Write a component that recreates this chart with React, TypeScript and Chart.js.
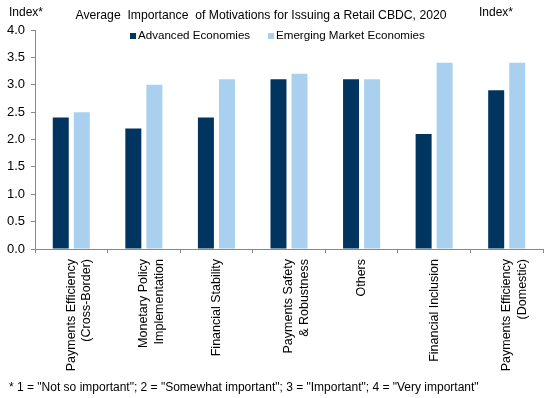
import React, { useEffect, useRef } from "react";
import { Chart, registerables } from "chart.js";

Chart.register(...registerables);

const categories: (string | string[])[] = [
  ["Payments Efficiency", "(Cross-Border)"],
  ["Monetary Policy", "Implementation"],
  "Financial Stability",
  ["Payments Safety", "& Robustness"],
  "Others",
  "Financial Inclusion",
  ["Payments Efficiency", "(Domestic)"],
];
const advanced = [2.4, 2.2, 2.4, 3.1, 3.1, 2.1, 2.9];
const emerging = [2.5, 3.0, 3.1, 3.2, 3.1, 3.4, 3.4];
const seriesNames = ["Advanced Economies", "Emerging Market Economies"];
const colors = ["#00355F", "#A9D0EE"];
const title = "Average  Importance  of Motivations for Issuing a Retail CBDC, 2020";
const footnote = '* 1 = "Not so important"; 2 = "Somewhat important"; 3 = "Important"; 4 = "Very important"';
const FONT = "'Liberation Sans', Arial, sans-serif";

const textPlugin = {
  id: "texts",
  afterDraw(chart: any) {
    const ctx = chart.ctx;
    ctx.save();
    ctx.fillStyle = "#000";
    ctx.font = `12px ${FONT}`;
    ctx.textBaseline = "middle";
    ctx.textAlign = "left";
    ctx.fillText("Index*", 9, 13);
    ctx.fillText("Index*", 479, 13);
    ctx.font = `12.2px ${FONT}`;
    ctx.textAlign = "center";
    ctx.fillText(title, 261, 16);
    // legend
    ctx.font = `11.6px ${FONT}`;
    ctx.textAlign = "left";
    const items = [
      { x: 130, label: seriesNames[0], color: colors[0] },
      { x: 268, label: seriesNames[1], color: colors[1] },
    ];
    for (const it of items) {
      ctx.fillStyle = it.color;
      ctx.fillRect(it.x, 33, 6, 6);
      ctx.fillStyle = "#000";
      ctx.fillText(it.label, it.x + 8, 36);
    }
    ctx.font = `12px ${FONT}`;
    ctx.fillText(footnote, 9, 388);
    ctx.restore();
  },
};

export default function App() {
  const ref = useRef<HTMLCanvasElement>(null);
  useEffect(() => {
    document.body.style.margin = "0";
    const chart = new Chart(ref.current!, {
      type: "bar",
      data: {
        labels: categories,
        datasets: [
          { label: seriesNames[0], data: advanced, backgroundColor: colors[0] },
          { label: seriesNames[1], data: emerging, backgroundColor: colors[1] },
        ],
      },
      options: {
        animation: false,
        responsive: false,
        maintainAspectRatio: false,
        layout: { padding: { top: 30, right: 14, left: 0, bottom: 0 } },
        datasets: { bar: { categoryPercentage: 0.58, barPercentage: 0.76 } },
        plugins: {
          legend: { display: false },
          title: { display: false },
          tooltip: { enabled: false },
        },
        scales: {
          x: {
            afterFit: (s: any) => {
              s.height = 149;
            },
            grid: {
              display: true,
              drawOnChartArea: false,
              tickLength: 4,
              color: "#888",
              offset: true,
            },
            border: { color: "#888" },
            ticks: {
              minRotation: 90,
              maxRotation: 90,
              autoSkip: false,
              padding: 6,
              color: "#000",
              font: { family: FONT, size: 12.5, lineHeight: 1.25 },
            },
          },
          y: {
            min: 0,
            max: 4,
            afterFit: (s: any) => {
              s.width = 35;
            },
            grid: {
              display: true,
              drawOnChartArea: false,
              tickLength: 4,
              color: "#888",
            },
            border: { color: "#888" },
            ticks: {
              stepSize: 0.5,
              padding: 6,
              color: "#000",
              font: { family: FONT, size: 13 },
              callback: (v: any) => Number(v).toFixed(1),
            },
          },
        },
      },
      plugins: [textPlugin],
    });
    return () => chart.destroy();
  }, []);
  return (
    <div style={{ width: 557, height: 398 }}>
      <canvas ref={ref} width={557} height={398} style={{ display: "block" }} />
    </div>
  );
}
